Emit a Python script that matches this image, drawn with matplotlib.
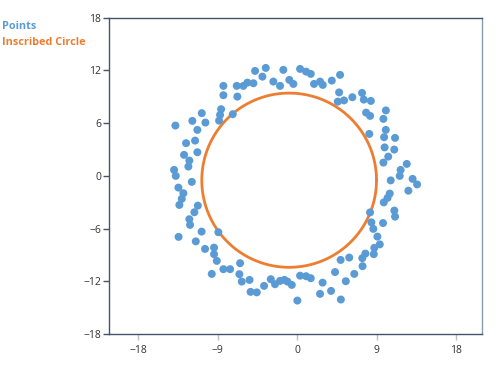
import numpy as np
import matplotlib
matplotlib.use("Agg")
import matplotlib.pyplot as plt

# points
px = [-8.37, -6.86, -6.11, -5.65, -8.37, -6.79, -10.82, -8.63, -8.75, -8.86,
      -7.31, -11.89, -10.41, -13.81, -11.32, -11.58, -12.60, -11.32, -12.83, -12.23,
      -12.34, -13.96, -13.77, -11.95, -4.78, -3.57, -3.95, -4.97, -1.58, -2.71,
      -1.95, 0.32, 1.00, 1.53, -0.90, -0.44, 1.90, 2.58, 2.89, 3.91,
      4.85, 4.74, 4.59, 5.30, 6.24, 7.34, 7.54, 8.34, 7.80, 8.25,
      10.04, 9.76, 8.16, 10.03, 9.84, 11.08, 9.90, 10.99, 10.31, 9.76,
      12.41, 11.71, 11.61, 10.59, 13.07, 13.58, 12.59, 10.48, 10.23, 9.80,
      11.00, 11.08, 8.25, 8.40, 8.62, 9.72, 9.08, 9.35, 8.73, 8.67,
      7.72, 7.37, 7.40, 5.89, 4.91, 4.28, 6.46, 5.50, 2.87, 3.83,
      2.58, 4.94, 0.32, 1.00, 1.53, 0.01, -0.62, -1.12, -1.46, -1.95,
      -2.52, -3.00, -3.76, -4.59, -5.29, -5.41, -6.29, -6.56, -6.48, -7.61,
      -8.37, -9.69, -9.12, -9.43, -9.43, -10.45, -8.94, -10.84, -11.50, -13.45,
      -12.15, -12.23, -11.66, -11.27, -13.36, -13.09, -12.91, -13.47]
py = [10.23, 10.23, 10.23, 10.60, 9.17, 9.01, 7.13, 7.58, 6.93, 6.28,
      7.01, 6.25, 6.06, 5.72, 5.23, 4.01, 3.72, 2.69, 2.39, 1.74,
      1.06, 0.68, 0.00, -0.68, 11.93, 12.27, 11.28, 10.53, 12.05, 10.72,
      10.23, 12.16, 11.85, 11.59, 10.91, 10.45, 10.45, 10.72, 10.34, 10.83,
      11.48, 9.49, 8.44, 8.58, 8.94, 9.43, 8.67, 8.52, 7.19, 6.82,
      7.44, 6.48, 4.77, 5.23, 4.40, 4.32, 3.24, 2.99, 2.19, 1.51,
      1.36, 0.68, 0.00, -0.51, -0.34, -0.97, -1.68, -2.01, -2.50, -3.01,
      -3.94, -4.63, -4.15, -5.28, -6.02, -5.36, -6.90, -7.78, -8.18, -8.89,
      -8.83, -9.35, -10.26, -9.28, -9.55, -10.93, -11.14, -11.97, -12.13, -13.07,
      -13.41, -14.05, -11.34, -11.40, -11.63, -14.17, -12.39, -12.01, -11.82, -11.93,
      -12.31, -11.74, -12.50, -13.24, -13.18, -11.82, -12.01, -11.17, -9.92, -10.60,
      -10.60, -11.14, -9.66, -8.90, -8.15, -8.30, -6.40, -6.33, -7.44, -6.93,
      -5.57, -4.92, -4.13, -3.38, -3.30, -2.61, -1.97, -1.33]

circle_center = (-0.92, -0.49)
circle_radius = 9.9
ticks = [-18, -9, 0, 9, 18]

blue = '#5B9BD5'
orange = '#ED7D31'
axis_col = '#44546A'

plt.rcParams['font.family'] = ['Open Sans', 'DejaVu Sans']

fig = plt.figure(figsize=(5, 3.79), dpi=100)
ax = fig.add_axes([0.2186, 0.118, 0.7448, 0.8358])

ax.scatter(px, py, s=33, color=blue, edgecolors='none', zorder=3)

t = np.linspace(0, 2 * np.pi, 400)
ax.plot(circle_center[0] + circle_radius * np.cos(t),
        circle_center[1] + circle_radius * np.sin(t),
        color=orange, lw=2, zorder=2)

ax.set_xlim(-21.3, 20.9)
ax.set_ylim(-18, 18)
ax.set_xticks(ticks)
ax.set_yticks([-18, -12, -6, 0, 6, 12, 18])

for side in ['left', 'bottom', 'top']:
    ax.spines[side].set_color(axis_col)
ax.spines['right'].set_color('#8C9AAE')
for s in ax.spines.values():
    s.set_linewidth(1)
ax.tick_params(axis='y', colors=axis_col, labelcolor='#333333', length=4,
               width=1, labelsize=7.5, pad=2)
ax.tick_params(axis='x', colors='#BFBFBF', labelcolor='#333333', length=4,
               width=1, labelsize=7.5, pad=4)

# legend as colored text, top left
fig.text(0.004, 0.9296, 'Points', color=blue, fontsize=7.8,
         fontweight='bold', va='center', ha='left')
fig.text(0.004, 0.8884, 'Inscribed Circle', color=orange, fontsize=7.8,
         fontweight='bold', va='center', ha='left')

fig.savefig('out.png', dpi=100)
